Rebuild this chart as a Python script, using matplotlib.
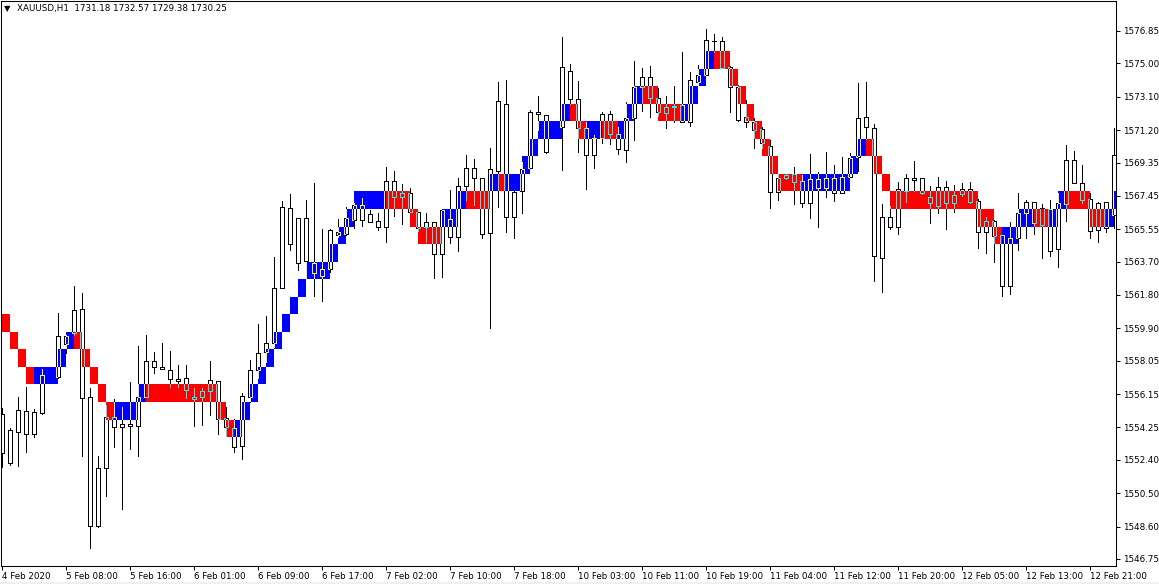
import numpy as np
import matplotlib
matplotlib.use("Agg")
import matplotlib.pyplot as plt
from matplotlib.collections import LineCollection, PolyCollection
from matplotlib.patches import PathPatch, Rectangle
from matplotlib.path import Path

header = "XAUUSD,H1  1731.18 1732.57 1729.38 1730.25"

time_labels = ["4 Feb 2020", "5 Feb 08:00", "5 Feb 16:00", "6 Feb 01:00", "6 Feb 09:00",
               "6 Feb 17:00", "7 Feb 02:00", "7 Feb 10:00", "7 Feb 18:00", "10 Feb 03:00",
               "10 Feb 11:00", "10 Feb 19:00", "11 Feb 04:00", "11 Feb 12:00", "11 Feb 20:00",
               "12 Feb 05:00", "12 Feb 13:00", "12 Feb 21:00"]

price_labels = ["1576.85", "1575.00", "1573.10", "1571.20", "1569.35", "1567.45", "1565.55",
                "1563.70", "1561.80", "1559.90", "1558.05", "1556.15", "1554.25", "1552.40",
                "1550.50", "1548.60", "1546.75"]

# candles, one row per H1 bar: high, body top, body bottom, low (None = not drawn)
candles = [
    (1555.33, 1554.99, 1552.77, 1551.97), (1554.19, 1554.08, 1552.20, 1552.10),
    (1556.00, 1555.22, 1554.00, 1552.07), (1556.57, 1555.16, 1553.90, 1552.86),
    (1555.28, 1555.12, 1553.85, 1553.72), (1557.58, 1557.21, 1555.09, 1555.01),
    None,                                 (1560.79, 1559.46, 1557.14, 1557.04),
    (1559.50, 1559.45, 1559.00, 1558.50), (1562.31, 1560.92, 1559.61, 1559.50),
    (1561.89, 1560.98, 1555.90, 1552.63), (1556.47, 1555.96, 1548.64, 1547.39),
    (1552.63, 1551.91, 1548.64, 1548.59), (1555.50, 1554.86, 1551.91, 1550.35),
    (1555.85, 1554.86, 1554.25, 1553.11), (1555.43, 1554.44, 1554.25, 1549.58),
    (1556.82, 1554.44, 1554.31, 1553.00), (1558.89, 1555.96, 1554.31, 1552.63),
    (1559.51, 1558.03, 1555.96, 1555.96), (1558.56, 1558.03, 1557.67, 1557.37),
    (1559.08, 1557.67, 1557.56, 1557.56), (1558.62, 1557.52, 1556.99, 1556.57),
    (1557.80, 1556.99, 1556.87, 1556.57), (1557.80, 1557.04, 1556.38, 1555.94),
    (1556.47, 1555.96, 1555.85, 1554.35), (1556.47, 1556.32, 1555.99, 1554.38),
    (1558.05, 1556.95, 1556.32, 1554.95), (1556.89, 1556.89, 1554.73, 1553.87),
    (1555.43, 1554.77, 1554.25, 1553.78), (1554.71, 1554.20, 1553.16, 1552.87),
    (1556.20, 1556.06, 1553.20, 1552.43), (1558.10, 1557.53, 1556.00, 1555.72),
    (1560.15, 1558.48, 1557.53, 1557.05), (1560.60, 1559.05, 1558.57, 1558.00),
    (1563.95, 1562.18, 1559.09, 1558.86), (1567.18, 1566.80, 1562.18, 1562.18),
    (1567.56, 1566.74, 1564.69, 1564.37), (1566.17, 1566.17, 1563.61, 1563.23),
    (1567.22, 1566.17, 1563.76, 1562.75), (1568.17, 1563.61, 1563.04, 1561.77),
    (1565.57, 1563.29, 1562.91, 1561.48), (1565.57, 1565.51, 1563.27, 1563.13),
    (1566.12, 1565.41, 1565.22, 1565.13), (1566.84, 1566.17, 1565.26, 1565.22),
    (1567.03, 1566.93, 1566.08, 1565.60), (1567.31, 1566.93, 1566.08, 1565.74),
    (1566.65, 1566.40, 1565.98, 1565.98), (1566.46, 1566.02, 1565.70, 1565.51),
    (1569.08, 1568.32, 1565.70, 1564.81), (1568.89, 1568.32, 1567.41, 1566.31),
    (1568.13, 1567.64, 1567.41, 1565.85), (1567.88, 1567.64, 1566.55, 1566.55),
    (1566.55, 1566.55, 1565.60, 1565.47), (1566.46, 1565.98, 1565.66, 1564.84),
    (1565.98, 1565.98, 1564.14, 1562.75), (1566.65, 1566.65, 1564.14, 1562.85),
    (1567.79, 1566.12, 1565.13, 1564.75), (1568.45, 1568.03, 1565.12, 1564.32),
    (1569.78, 1569.06, 1568.03, 1567.21), (1569.55, 1569.06, 1568.49, 1566.93),
    (1568.49, 1568.49, 1565.26, 1565.07), (1570.16, 1568.96, 1565.31, 1559.93),
    (1573.92, 1572.88, 1568.89, 1566.83), (1574.05, 1572.67, 1566.23, 1565.41),
    (1567.70, 1567.65, 1566.23, 1565.07), (1569.36, 1568.98, 1567.73, 1566.49),
    (1572.34, 1572.25, 1569.02, 1569.02), (1573.14, 1572.25, 1572.10, 1571.20),
    (1572.06, 1572.06, 1569.97, 1569.91), None,
    (1576.49, 1574.78, 1571.39, 1568.92), (1574.97, 1574.59, 1572.95, 1572.67),
    (1574.00, 1572.95, 1571.30, 1569.97), (1571.68, 1571.30, 1569.78, 1567.84),
    (1570.92, 1570.73, 1569.78, 1569.06), (1572.21, 1572.10, 1570.73, 1570.44),
    (1572.29, 1572.10, 1570.96, 1570.39), (1571.39, 1570.96, 1570.12, 1569.82),
    (1572.78, 1571.87, 1570.06, 1569.36), (1575.14, 1573.67, 1571.87, 1570.63),
    (1574.72, 1574.24, 1573.67, 1572.29), (1574.85, 1574.24, 1573.05, 1571.96),
    (1573.58, 1573.05, 1572.25, 1572.02), (1573.14, 1572.53, 1572.15, 1571.30),
    (1573.71, 1572.60, 1572.53, 1571.68), (1575.63, 1572.63, 1571.64, 1571.64),
    (1574.49, 1574.05, 1571.64, 1571.45), (1574.91, 1574.34, 1573.92, 1573.77),
    (1576.96, 1576.33, 1574.34, 1574.34), (1576.66, 1576.30, 1576.28, 1575.63),
    (1576.49, 1576.28, 1574.76, 1574.76), (1574.87, 1574.81, 1573.67, 1572.25),
    (1573.77, 1573.67, 1571.77, 1571.73), (1572.91, 1571.93, 1571.68, 1571.39),
    (1571.87, 1571.68, 1571.20, 1570.20), (1571.39, 1571.24, 1570.44, 1570.16),
    (1570.63, 1570.31, 1567.65, 1566.78), (1568.70, 1568.45, 1567.65, 1567.21),
    (1568.70, 1568.66, 1568.45, 1568.41), (1569.08, 1568.70, 1568.26, 1566.99),
    (1568.64, 1568.32, 1567.02, 1566.83), (1569.82, 1568.41, 1567.02, 1566.20),
    (1568.79, 1568.41, 1567.92, 1565.69), (1569.93, 1568.49, 1567.92, 1567.40),
    (1569.21, 1568.49, 1567.59, 1567.17), (1569.65, 1568.54, 1567.59, 1567.59),
    (1569.91, 1569.59, 1568.54, 1568.50), (1573.87, 1571.87, 1569.65, 1568.89),
    (1573.92, 1571.93, 1571.36, 1570.69), (1571.53, 1571.30, 1564.02, 1562.61),
    (1566.97, 1566.26, 1563.89, 1561.95), (1566.90, 1566.26, 1565.66, 1565.56),
    (1568.26, 1567.82, 1565.69, 1565.26), (1568.70, 1568.45, 1567.73, 1567.12),
    (1569.44, 1568.45, 1568.37, 1567.73), (1568.45, 1568.45, 1567.59, 1567.54),
    (1568.01, 1567.40, 1567.02, 1565.92), (1568.50, 1567.97, 1566.89, 1566.45),
    (1568.30, 1567.97, 1567.02, 1565.56), (1568.07, 1567.50, 1567.02, 1566.51),
    (1568.16, 1567.82, 1567.56, 1567.46), (1568.26, 1567.82, 1567.12, 1567.02),
    (1567.27, 1567.16, 1565.37, 1564.50), (1566.26, 1566.04, 1565.37, 1564.21),
    (1566.07, 1566.04, 1565.18, 1563.70), (1565.22, 1565.22, 1562.33, 1561.76),
    (1565.94, 1565.03, 1562.29, 1561.86), (1567.63, 1566.45, 1565.03, 1564.36),
    (1567.21, 1567.08, 1566.45, 1565.07), (1567.08, 1567.08, 1565.88, 1565.26),
    (1566.97, 1566.74, 1565.79, 1563.93), (1567.21, 1566.70, 1564.32, 1564.02),
    (1567.59, 1567.02, 1564.40, 1563.41), (1570.35, 1569.49, 1566.97, 1566.02),
    (1570.01, 1569.49, 1568.16, 1568.16), (1569.21, 1568.16, 1567.21, 1567.06),
    (1567.59, 1567.25, 1565.46, 1565.07), (1567.12, 1567.06, 1565.50, 1564.84),
    (1567.08, 1567.08, 1565.60, 1565.37), (1571.30, 1569.78, 1566.36, 1565.60),
]

# renko box bottom per bar (box height 1.0) and its colour (R = down, B = up)
box_low = [
    1559.7, 1558.7, 1557.7, 1556.7, 1556.7, 1556.7, 1556.7, 1557.7, 1558.7, 1558.7,
    1557.7, 1556.7, 1555.7, 1554.7, 1554.7, 1554.7, 1554.7, 1555.7, 1555.7, 1555.7,
    1555.7, 1555.7, 1555.7, 1555.7, 1555.7, 1555.7, 1555.7, 1554.7, 1553.7, 1553.7,
    1554.7, 1555.7, 1556.7, 1557.7, 1558.7, 1559.7, 1560.7, 1561.7, 1562.7, 1562.7,
    1562.7, 1563.7, 1564.7, 1565.7, 1566.7, 1566.7, 1566.7, 1566.7, 1566.7, 1566.7,
    1566.7, 1565.7, 1564.7, 1564.7, 1564.7, 1565.7, 1565.7, 1566.7, 1566.7, 1566.7,
    1566.7, 1567.7, 1567.7, 1567.7, 1567.7, 1568.7, 1569.7, 1570.7, 1570.7, 1570.7,
    1571.7, 1571.7, 1570.7, 1570.7, 1570.7, 1570.7, 1570.7, 1570.7, 1571.7, 1572.7,
    1572.7, 1572.7, 1571.7, 1571.7, 1571.7, 1571.7, 1572.7, 1573.7, 1574.7, 1574.7,
    1574.7, 1573.7, 1572.7, 1571.7, 1570.7, 1569.7, 1568.7, 1567.7, 1567.7, 1567.7,
    1567.7, 1567.7, 1567.7, 1567.7, 1567.7, 1567.7, 1568.7, 1569.7, 1569.7, 1568.7,
    1567.7, 1566.7, 1566.7, 1566.7, 1566.7, 1566.7, 1566.7, 1566.7, 1566.7, 1566.7,
    1566.7, 1566.7, 1565.7, 1565.7, 1564.7, 1564.7, 1564.7, 1565.7, 1565.7, 1565.7,
    1565.7, 1565.7, 1566.7, 1566.7, 1566.7, 1566.7, 1565.7, 1565.7, 1565.7, 1566.7,
]
box_col = ("RRRRBBBBBR" "RRRRBBBBRR" "RRRRRRRRRB" "BBBBBBBBBB" "BBBBBBBBRR"
           "RRRRRBBBRR" "RBRBBBBBBB" "BRRBBRRBBB" "RRRRRBBBBR" "RRRRRRRRRR"
           "BBBBBBBBRR" "RRRRRRRRRR" "RRRRRBBBBR" "RBBRRRRRBB")

W, H = 1159, 584
fig = plt.figure(figsize=(W / 100, H / 100), dpi=100)
fig.patch.set_facecolor("white")
ax = fig.add_axes([1 / W, (H - 566) / H, 1114.5 / W, 565 / H])
ax.set_xlim((1 - 2.3) / 8, (1115.5 - 2.3) / 8)
ax.set_ylim(1576.85 - (566 - 31) / 17.54, 1576.85 + 30 / 17.54)

hw = 0.25
lw = 0.6
wicks, outlines, bodies = [], [], []
for i, c in enumerate(candles):
    if c is None:
        continue
    hi, top, bot, lo = c
    if hi > top:
        wicks.append([(i, top), (i, hi)])
    if bot > lo:
        wicks.append([(i, lo), (i, bot)])
    rect = [(i - hw, bot), (i + hw, bot), (i + hw, top), (i - hw, top), (i - hw, bot)]
    outlines.append(rect)
    bodies.append(rect[:4])
segs = wicks + outlines

ax.add_collection(PolyCollection(bodies, facecolors="white", edgecolors="none",
                                 antialiased=False, zorder=1))
ax.add_collection(LineCollection(segs, colors="black", linewidths=lw,
                                 antialiased=False, zorder=1.5))

red_boxes, blue_boxes = [], []
for i, (b, c) in enumerate(zip(box_low, box_col)):
    r = [(i, b), (i + 1, b), (i + 1, b + 1), (i, b + 1)]
    (red_boxes if c == "R" else blue_boxes).append(r)

ax.add_collection(PolyCollection(red_boxes, facecolors="#ff0000", edgecolors="none",
                                 antialiased=False, zorder=2))
ax.add_collection(PolyCollection(blue_boxes, facecolors="#0000ff", edgecolors="none",
                                 antialiased=False, zorder=2))

# candle outlines inside boxes show inverted colours (blue -> yellow, red -> cyan)
for boxes, col in ((blue_boxes, "#ffff00"), (red_boxes, "#00ffff")):
    clip = Path.make_compound_path(*[Path(r + [r[0]], closed=True) for r in boxes])
    patch = PathPatch(clip, transform=ax.transData, facecolor="none", edgecolor="none")
    lc = LineCollection(segs, colors=col, linewidths=lw, antialiased=False, zorder=3)
    ax.add_collection(lc)
    lc.set_clip_path(patch)

for s in ax.spines.values():
    s.set_linewidth(0.75)
    s.set_color("black")

ax.yaxis.tick_right()
ax.set_yticks([float(p) for p in price_labels], price_labels)
ax.set_xticks(range(0, 8 * len(time_labels), 8), time_labels)
ax.tick_params(axis="both", direction="out", length=3, width=0.75, labelsize=6.3,
               colors="black")
ax.tick_params(axis="y", pad=2.5)
ax.tick_params(axis="x", pad=1.5)
for lab in ax.get_xticklabels():
    lab.set_ha("left")

fig.text(7 / W, 1 - 9 / H, "\u25bc", fontsize=6, ha="center", va="center")
fig.text(17 / W, 1 - 9 / H, header, fontsize=6.3, ha="left", va="center")
fig.patches.append(Rectangle((0, 0), 1, 2 / H, transform=fig.transFigure,
                             facecolor="#f0f0f0", edgecolor="none"))

fig.savefig("out.png", dpi=100)
